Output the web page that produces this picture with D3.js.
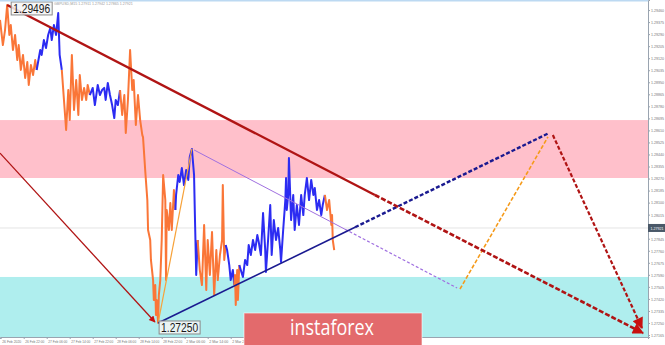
<!DOCTYPE html>
<html>
<head>
<meta charset="utf-8">
<script src="https://cdn.jsdelivr.net/npm/d3@7"></script>
<style>
  html, body { margin: 0; padding: 0; background: #fff; }
  svg { display: block; font-family: "Liberation Sans", Arial, sans-serif; }
</style>
</head>
<body>
<svg id="chart" width="665" height="345"></svg>
<script>
// GBPUSD M15, hours counted from 26 Feb 13:45 (weekend bars collapsed)
const pricePath = [
  [0, 1.29390], [1.0, 1.29213], [1.75, 1.29319], [2.5, 1.29496], [3.25, 1.29284], [3.75, 1.29354],
  [4.5, 1.29178], [5.25, 1.29284], [6, 1.29107], [6.5, 1.29213], [7.25, 1.29037], [8, 1.29143],
  [8.75, 1.28980], [9.5, 1.29093], [10, 1.28931], [10.75, 1.29072], [11.5, 1.29001], [12.25, 1.29107],
  [12.75, 1.29037], [13.25, 1.29093], [14, 1.29178], [14.5, 1.29143], [15.25, 1.29248], [16, 1.29192],
  [16.75, 1.29284], [17.5, 1.29333], [18, 1.29248], [18.75, 1.29354], [19.5, 1.29284], [20.25, 1.29439],
  [20.75, 1.29143], [21.5, 1.29037], [22.25, 1.28825], [23, 1.28613], [23.75, 1.28895], [24.25, 1.28683],
  [25, 1.29143], [25.75, 1.28754], [26.5, 1.28966], [27.25, 1.28719], [27.75, 1.29001], [28.5, 1.28825],
  [29.25, 1.28910], [30, 1.28825], [30.5, 1.28931], [31.25, 1.28860], [32.25, 1.28910], [33, 1.28789],
  [34, 1.28931], [34.75, 1.28860], [35.5, 1.28895], [36.25, 1.28910], [36.75, 1.28825], [37.5, 1.28945],
  [38.25, 1.28860], [39, 1.28789], [39.75, 1.28697], [40.25, 1.28825], [41, 1.28789], [41.75, 1.28895],
  [42.5, 1.28719], [43.25, 1.28860], [43.75, 1.28592], [44.5, 1.28825], [45.25, 1.29178], [46, 1.28895],
  [46.5, 1.28966], [47.25, 1.28648], [48, 1.28860], [48.75, 1.28683], [49.5, 1.28577], [49.75, 1.28563],
  [50.5, 1.28330], [51.25, 1.28118], [51.5, 1.27907], [52.25, 1.27836], [52.5, 1.27695], [53.25, 1.27553],
  [53.5, 1.27412], [54, 1.27518], [54.25, 1.27306], [54.5, 1.27412], [55, 1.27250], [55.25, 1.27447],
  [55.75, 1.27553], [56.25, 1.27836], [56.75, 1.28295], [57.5, 1.28118], [57.75, 1.27553], [58, 1.28048],
  [58.75, 1.27907], [59.25, 1.28097], [59.75, 1.27907], [60.5, 1.28189], [61, 1.28048], [61.25, 1.28154],
  [62, 1.28295], [62.5, 1.28246], [63.25, 1.28344], [64, 1.28224], [64.75, 1.28330], [65.5, 1.28260],
  [66, 1.28422], [66.75, 1.28479], [67.5, 1.28295], [67.75, 1.28048], [68.25, 1.27589], [68.75, 1.27836],
  [69.5, 1.27624], [70.25, 1.27518], [71, 1.27942], [71.75, 1.27483], [72.25, 1.27836], [73, 1.27589],
  [73.75, 1.27893], [74.5, 1.27447], [75.25, 1.27765], [75.75, 1.27553], [76.5, 1.27730], [77.25, 1.27836],
  [77.5, 1.28224], [78, 1.27695], [78.5, 1.27801], [79, 1.27765], [79.75, 1.27659], [80.25, 1.27553],
  [81, 1.27624], [81.5, 1.27518], [81.75, 1.27589], [82, 1.27377], [82.5, 1.27624], [82.75, 1.27412],
  [83.25, 1.27659], [83.75, 1.27624], [84.5, 1.27575], [85.25, 1.27695], [86, 1.27659], [86.5, 1.27801],
  [87.25, 1.27730], [88, 1.27836], [88.75, 1.27765], [89.5, 1.27871], [90, 1.27822], [90.75, 1.27730],
  [91.5, 1.28026], [92.25, 1.27765], [92.5, 1.27610], [93.25, 1.27836], [94, 1.28083], [94.5, 1.27730],
  [95.25, 1.27977], [96, 1.27836], [96.75, 1.27921], [97.5, 1.27765], [97.75, 1.27681], [98.5, 1.27907],
  [99.25, 1.28118], [99.5, 1.28274], [99.75, 1.28048], [100.25, 1.28154], [100.5, 1.28415], [101.25, 1.27977],
  [102, 1.28154], [102.5, 1.27907], [103.25, 1.28083], [104, 1.27942], [104.75, 1.28154], [105.5, 1.28012],
  [106, 1.28154], [106.75, 1.28274], [107.5, 1.28118], [108.25, 1.28260], [109, 1.28154], [109.5, 1.28203],
  [110.25, 1.28048], [111, 1.28118], [111.75, 1.28012], [112.25, 1.28083], [113, 1.28154], [113.75, 1.28048],
  [114.5, 1.28118], [115.25, 1.27942], [115.5, 1.28012], [115.75, 1.27836], [116.25, 1.27765]
];

// colour changes of the wave indicator
const waveStarts = [0, 12.75, 21.5, 31.25, 41.75, 61, 68.75, 78.5, 81.5, 83.25, 113];
const waveKinds  = ['down', 'up', 'down', 'up', 'down', 'up', 'down', 'up', 'down', 'up', 'down'];

// zones [low, high]
const resistZone = [1.28274, 1.28683];
const supportZone = [1.27151, 1.27575];
const lastPrice = 1.27921;

// annotation lines [hour, price]
const trendLine = [[2.5, 1.29496], [130.4, 1.28154], [223.65, 1.27179]];
const leftArrow = [[0, 1.28450], [53.9, 1.27257]];
const dropArrow = [[192.3, 1.28577], [223.3, 1.27214]];
const supportLine = [[55, 1.27250], [123.5, 1.27926], [191, 1.28592]];
const waveB = [[67.5, 1.28472], [120, 1.27912], [159, 1.27497]];
const waveC = [[160, 1.27490], [190.6, 1.28564]];
const waveA = [[55, 1.27250], [66.75, 1.28479]];

const highMark = { h: 2.5, p: 1.29496, text: '1.29496' };
const lowMark = { h: 55, p: 1.27250, text: '1.27250' };

const yTicks = [1.27165, 1.27250, 1.27335, 1.27420, 1.27505, 1.27590, 1.27675, 1.27760, 1.27845,
  1.28015, 1.28100, 1.28185, 1.28270, 1.28355, 1.28440, 1.28525, 1.28610, 1.28695, 1.28780,
  1.28865, 1.28950, 1.29035, 1.29120, 1.29205, 1.29290, 1.29375, 1.29460];
const xTickHours = [0.25, 8.25, 16.25, 24.25, 32.25, 40.25, 48.25, 56.25, 64.25, 72.25, 80.25];
const xTickLabels = ['26 Feb 2020', '26 Feb 22:00', '27 Feb 06:00', '27 Feb 14:00', '27 Feb 22:00',
  '28 Feb 06:00', '28 Feb 14:00', '28 Feb 22:00', '2 Mar 06:00', '2 Mar 14:00', '2 Mar 22:00'];

const W = 665, H = 345, plotR = 648, plotB = 337;
const COLORS = { down: '#fa7638', up: '#2c2cf2' };

const svg = d3.select('#chart');
const x = d3.scaleLinear().domain([0, 225.4]).range([0, plotR]);
const y = d3.scaleLinear().domain([1.27151, 1.29531]).range([plotB, 0]);
const line = d3.line().x(d => x(d[0])).y(d => y(d[1]));

// markers
const defs = svg.append('defs');
function marker(id, size) {
  defs.append('marker')
    .attr('id', id).attr('markerUnits', 'userSpaceOnUse')
    .attr('viewBox', '0 0 10 10').attr('refX', 9).attr('refY', 5)
    .attr('markerWidth', size).attr('markerHeight', size * 0.8).attr('orient', 'auto')
    .append('path').attr('d', 'M0,0 L10,5 L0,10 z').attr('fill', '#c8100f');
}
marker('arrowBig', 14);
marker('arrowSmall', 8);

svg.append('rect').attr('width', W).attr('height', H).attr('fill', '#fff');

// zones
[[resistZone, '#ffc0cb'], [supportZone, '#afeeee']].forEach(([z, c]) => {
  svg.append('rect')
    .attr('x', 0).attr('width', plotR)
    .attr('y', y(z[1])).attr('height', y(z[0]) - y(z[1]))
    .attr('fill', c);
});

// last price line
svg.append('line')
  .attr('x1', 0).attr('x2', plotR).attr('y1', y(lastPrice)).attr('y2', y(lastPrice))
  .attr('stroke', '#e4e4e4').attr('stroke-width', 1);

// price series by wave colour
waveStarts.forEach((s, i) => {
  const e = i + 1 < waveStarts.length ? waveStarts[i + 1] : Infinity;
  const pts = pricePath.filter(d => d[0] >= s && d[0] <= e);
  svg.append('path')
    .attr('d', line(pts)).attr('fill', 'none')
    .attr('stroke', COLORS[waveKinds[i]]).attr('stroke-width', 2)
    .attr('stroke-linejoin', 'round');
});

// wave lines
function seg(pts, color, width, dash, mk) {
  const p = svg.append('path').attr('d', line(pts)).attr('fill', 'none')
    .attr('stroke', color).attr('stroke-width', width);
  if (dash) p.attr('stroke-dasharray', dash);
  if (mk) p.attr('marker-end', 'url(#' + mk + ')');
  return p;
}
seg(waveA, '#f7a23a', 1.2);
seg(waveB.slice(0, 2), '#a070e0', 1);
seg(waveB.slice(1), '#a070e0', 1.2, '3,2');
seg(waveC, '#f59a1a', 1.6, '4,2');
seg(supportLine.slice(0, 2), '#1a1a90', 1.6);
seg(supportLine.slice(1), '#1a1a90', 2.4, '4,2');
seg(trendLine.slice(0, 2), '#b01414', 2.4);
seg(trendLine.slice(1), '#b01414', 2.6, '5,2', 'arrowBig');
seg(dropArrow, '#b01414', 2.2, '4,2', 'arrowBig');
seg(leftArrow, '#b01414', 1.3, null, 'arrowSmall');

// price labels
[[highMark, 4, -3], [lowMark, 1, -2]].forEach(([m, dx, dy]) => {
  const g = svg.append('g').attr('transform', `translate(${x(m.h) + dx},${y(m.p) + dy})`);
  g.append('rect').attr('width', 41).attr('height', 13)
    .attr('fill', 'rgba(245,245,245,0.85)').attr('stroke', '#8a8a8a').attr('stroke-width', 1);
  g.append('text').attr('x', 2).attr('y', 11).attr('font-size', 12)
    .attr('textLength', 37).attr('lengthAdjust', 'spacingAndGlyphs')
    .attr('fill', '#1a1a1a').text(m.text);
});

// top info line
svg.append('rect').attr('x', 0).attr('y', 0).attr('width', W).attr('height', 1.5).attr('fill', '#bcd9f2');
svg.append('text').attr('x', 54).attr('y', 4.5).attr('font-size', 3.6).attr('fill', '#999')
  .text('GBPUSD,M15  1.27911 1.27942 1.27865 1.27921');

// axes
svg.append('rect').attr('x', plotR).attr('y', 0).attr('width', W - plotR).attr('height', H).attr('fill', '#fff');
svg.append('rect').attr('x', 0).attr('y', plotB).attr('width', W).attr('height', H - plotB).attr('fill', '#fff');

const yAxis = svg.append('g').attr('transform', `translate(${plotR},0)`)
  .call(d3.axisRight(y).tickValues(yTicks).tickFormat(d3.format('.5f')).tickSize(2).tickPadding(1));
const xAxis = svg.append('g').attr('transform', `translate(0,${plotB})`)
  .call(d3.axisBottom(x).tickValues(xTickHours).tickFormat((d, i) => xTickLabels[i]).tickSize(2).tickPadding(0));
[yAxis, xAxis].forEach(a => {
  a.selectAll('path, line').attr('stroke', '#9aa4b0');
  a.selectAll('text').attr('font-size', 4.2).attr('fill', '#777')
    .attr('font-family', '"Liberation Sans", sans-serif').attr('lengthAdjust', 'spacingAndGlyphs');
});
yAxis.selectAll('text').attr('textLength', 13);
xAxis.selectAll('text').attr('text-anchor', 'start').attr('dy', '0.9em').attr('dx', 1)
  .attr('textLength', 19);

// last price tag
const tag = svg.append('g').attr('transform', `translate(${plotR},${y(lastPrice) - 4})`);
tag.append('rect').attr('width', W - plotR).attr('height', 8).attr('fill', '#4a5868');
tag.append('text').attr('x', 2.5).attr('y', 5.6).attr('font-size', 4.2).attr('fill', '#fff')
  .attr('textLength', 13).attr('lengthAdjust', 'spacingAndGlyphs')
  .text(d3.format('.5f')(lastPrice));

// logo
const logo = svg.append('g');
logo.append('rect').attr('x', 244).attr('y', 313).attr('width', 178).attr('height', 40)
  .attr('fill', '#e36a6c').attr('stroke', 'rgba(255,255,255,0.6)').attr('stroke-width', 1);
logo.append('text').attr('x', 332).attr('y', 335).attr('text-anchor', 'middle')
  .attr('font-family', '"Open Sans", sans-serif').attr('font-size', 21)
  .attr('textLength', 84).attr('lengthAdjust', 'spacingAndGlyphs')
  .attr('fill', '#fff').text('instaforex');
</script>
</body>
</html>
